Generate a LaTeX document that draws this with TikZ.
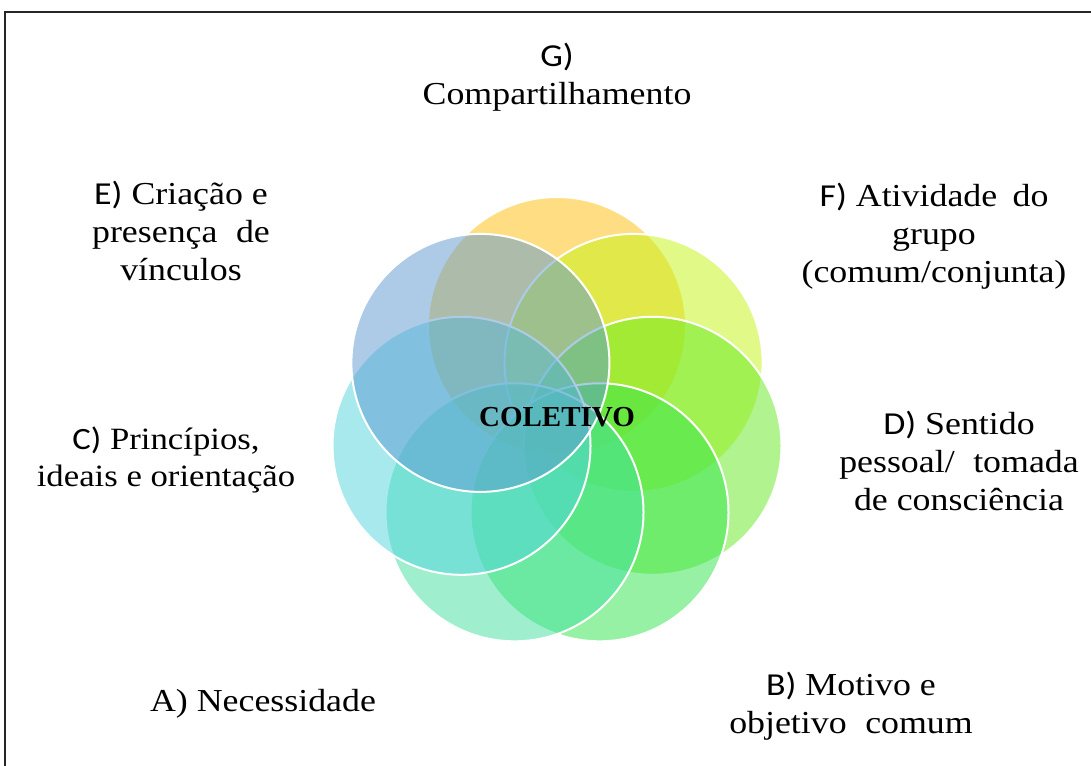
\documentclass[tikz,border=0pt]{standalone}
\usepackage{fontspec}
\setmainfont{Liberation Serif}[FakeStretch=1.12]
\newfontfamily\sansL{Carlito}[FakeStretch=1.12]
\newfontfamily\centerfont{Liberation Serif}
\newcommand{\labL}[1]{{\sansL #1}}
\definecolor{cG}{RGB}{255,190,8}
\definecolor{cF}{RGB}{195,245,17}
\definecolor{cD}{RGB}{101,235,33}
\definecolor{cB}{RGB}{49,229,77}
\definecolor{cA}{RGB}{65,225,161}
\definecolor{cC}{RGB}{81,213,221}
\definecolor{cE}{RGB}{93,153,209}
\begin{document}
\begin{tikzpicture}[x=1pt,y=-1pt,
  circ/.style={circle, inner sep=0pt, outer sep=0pt, minimum size=258pt,
    fill opacity=0.5, draw=white, line width=2pt},
  lab/.style={align=center, font=\fontsize{32}{38}\selectfont, inner sep=0pt},
  frameline/.style={line width=2pt, draw=black!85}]
\useasboundingbox (0,0) rectangle (1091,765);
\fill[white] (0,0) rectangle (1091,765);
\coordinate (fr1) at (1092,12);
\coordinate (fr2) at (5,12);
\coordinate (fr3) at (5,766);
\draw[frameline] (fr1) -- (fr2) -- (fr3);
% circles
\node[circ, fill=cG] (circG) at (557,326) {};
\node[circ, fill=cF] (circF) at (633.6,362.9) {};
\node[circ, fill=cD] (circD) at (652.5,445.8) {};
\node[circ, fill=cB] (circB) at (599.5,512.3) {};
\node[circ, fill=cA] (circA) at (514.5,512.3) {};
\node[circ, fill=cC] (circC) at (461.5,445.8) {};
\node[circ, fill=cE] (circE) at (480.4,362.9) {};
% centre label
\node[font=\centerfont\bfseries\fontsize{29}{32}\selectfont, inner sep=0pt] (col) at (557,417) {COLETIVO};
% labels
\node[lab] (tG) at (557,77) {\labL{G)}\\Compartilhamento};
\node[lab] (tE) at (181,231) {\labL{E)} Criação e\\presença\hspace{0.3em} de\\vínculos};
\node[lab] (tF) at (934,236) {\labL{F)} Atividade\hspace{0.2em} do\\grupo\\(comum/conjunta)};
\node[lab, font=\fontsize{31}{37}\selectfont] (tC) at (166,460) {\labL{C)} Princípios,\\ideais e orientação};
\node[lab] (tD) at (959,461) {\labL{D)} Sentido\\pessoal/\hspace{0.3em} tomada\\de consciência};
\node[lab] (tA) at (263,704) {A) Necessidade};
\node[lab] (tB) at (851,706) {\labL{B)} Motivo e\\objetivo\hspace{0.3em} comum};
\end{tikzpicture}
\end{document}
